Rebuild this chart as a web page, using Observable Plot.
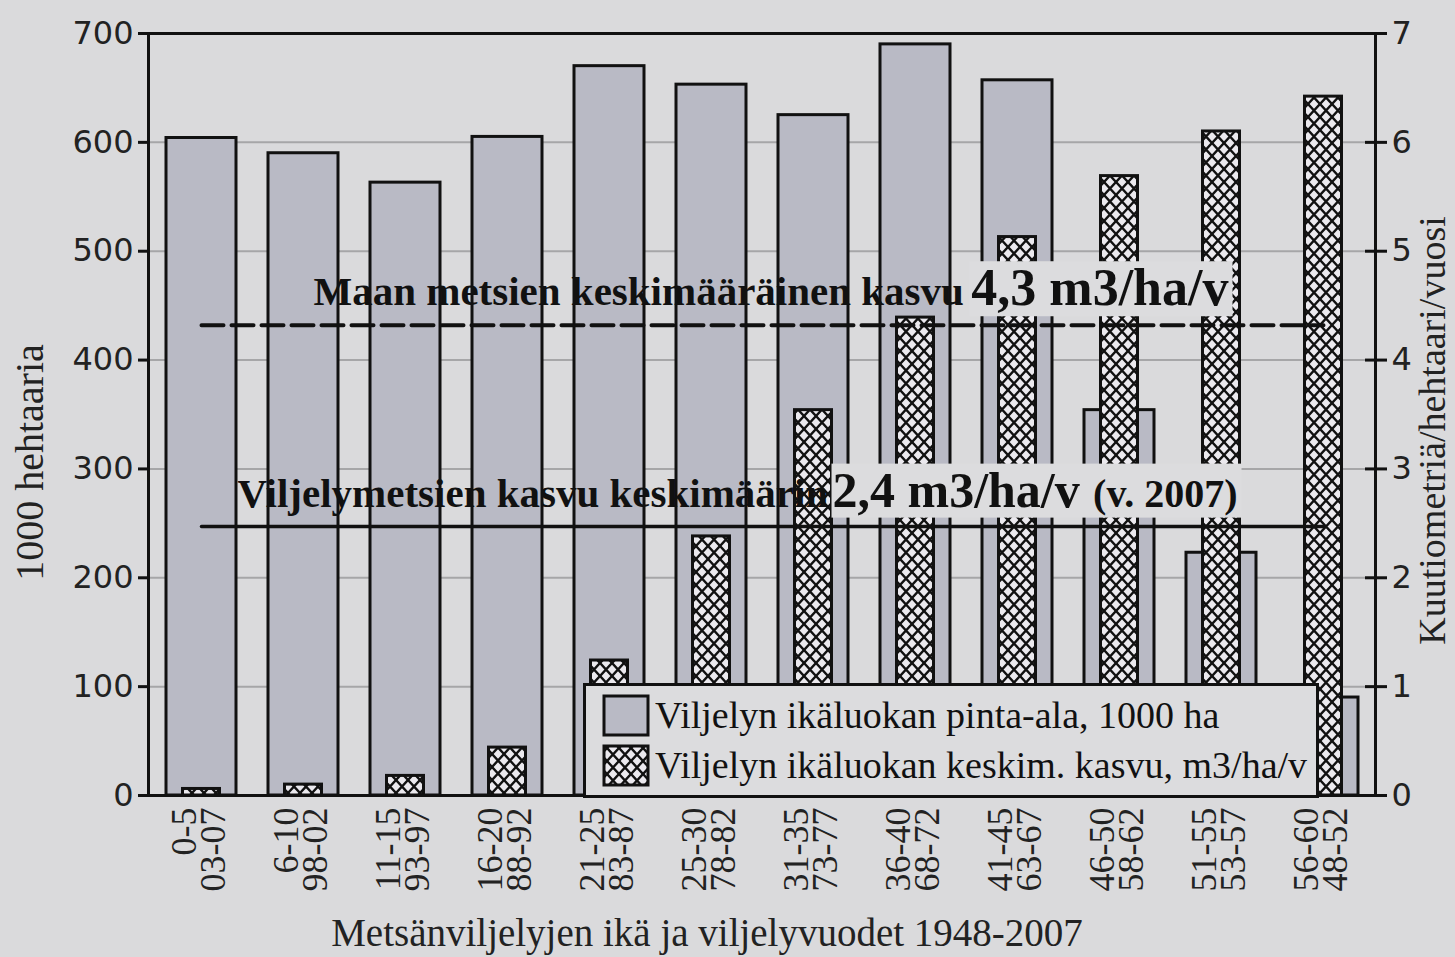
<!DOCTYPE html>
<html><head><meta charset="utf-8">
<script src="https://cdn.jsdelivr.net/npm/d3@7"></script>
<script src="https://cdn.jsdelivr.net/npm/@observablehq/plot@0.6"></script>
<style>
body{margin:0;background:#dadadc;overflow:hidden;}
#wrap{position:relative;width:1455px;height:957px;}
#legend{position:absolute;left:583px;top:683px;}
</style></head><body>
<svg width="0" height="0" style="position:absolute">
 <defs>
  <pattern id="hatch" patternUnits="userSpaceOnUse" width="12" height="13">
   <rect width="12" height="13" fill="#ebe9ee"></rect>
   <path d="M-1.2,-1.3L13.2,14.3M13.2,-1.3L-1.2,14.3" stroke="#111" stroke-width="2.4"></path>
  </pattern>
 </defs>
</svg>
<div id="wrap"></div>
<script>
// ---- data ----
const ageClasses = ["0-5","6-10","11-15","16-20","21-25","25-30","31-35","36-40","41-45","46-50","51-55","56-60"];
const plantingYears = ["03-07","98-02","93-97","88-92","83-87","78-82","73-77","68-72","63-67","58-62","53-57","48-52"];
const areaThousandHa = [604, 590, 563, 605, 670, 653, 625, 690, 657, 354, 223, 90];
const meanGrowth = [0.06, 0.10, 0.18, 0.44, 1.24, 2.38, 3.54, 4.39, 5.13, 5.69, 6.10, 6.42];
const countryMean = 4.32;   // "Maan metsien keskimääräinen kasvu 4,3 m3/ha/v"
const plantedMean = 2.47;   // "Viljelymetsien kasvu keskimäärin 2,4 m3/ha/v"
const leftTicks = [0,100,200,300,400,500,600,700];
const rightTicks = [0,1,2,3,4,5,6,7];
const legendLabels = ["Viljelyn ikäluokan pinta-ala, 1000 ha","Viljelyn ikäluokan keskim. kasvu, m3/ha/v"];

const K = 100; // right axis (m3/ha/v) -> left axis units
const rows = ageClasses.map((c,i)=>({cat:c, area:areaThousandHa[i], growth:meanGrowth[i]}));
const first = ageClasses[0], last = ageClasses[ageClasses.length-1];
const serif = "Liberation Serif, Times New Roman, serif";
const sans = "DejaVu Sans, Verdana, sans-serif";
const ink = "#111";

const chart = Plot.plot({
  width:1455, height:957,
  marginTop:33, marginBottom:162, marginLeft:148, marginRight:80,
  style:{background:"transparent", fontFamily:sans, color:"#222", overflow:"visible"},
  x:{type:"band", domain:ageClasses, padding:0},
  y:{domain:[0,700]},
  marks:[
    Plot.ruleY(leftTicks.filter(d=>d>0 && d<700), {stroke:"#a6a6a8", strokeWidth:2}),
    Plot.barY(rows, {x:"cat", y:"area", fill:"#b9bac5", stroke:ink, strokeWidth:3, insetLeft:16, insetRight:16}),
    Plot.barY(rows, {x:"cat", y:d=>d.growth*K, fill:"url(#hatch)", stroke:ink, strokeWidth:3, insetLeft:32.5, insetRight:32.5}),
    Plot.text([{cat:"51-55", v:countryMean}], {x:"cat", y:d=>d.v*K, text:()=>"4,3 m3/ha/v", textAnchor:"end", lineAnchor:"bottom", dx:7, dy:-20, fontSize:52, fontWeight:"bold", fontFamily:serif, fill:ink}),
    Plot.text([{cat:"31-35", v:plantedMean}], {x:"cat", y:d=>d.v*K, text:()=>"2,4 m3/ha/v", textAnchor:"start", lineAnchor:"bottom", dx:19, dy:-20, fontSize:50, fontWeight:"bold", fontFamily:serif, fill:ink}),
    Plot.text([{cat:"51-55", v:plantedMean}], {x:"cat", y:d=>d.v*K, text:()=>"(v. 2007)", textAnchor:"end", lineAnchor:"bottom", dx:16, dy:-20, fontSize:40, fontWeight:"bold", fontFamily:serif, fill:ink}),
    Plot.text([{cat:"6-10", v:countryMean}], {x:"cat", y:d=>d.v*K, text:()=>"Maan metsien keskimääräinen kasvu", textAnchor:"start", lineAnchor:"bottom", dx:10, dy:-20, fontSize:41, fontWeight:"bold", fontFamily:serif, fill:ink}),
    Plot.text([{cat:first, v:plantedMean}], {x:"cat", y:d=>d.v*K, text:()=>"Viljelymetsien kasvu keskimäärin", textAnchor:"start", lineAnchor:"bottom", dx:36, dy:-20, fontSize:41, fontWeight:"bold", fontFamily:serif, fill:ink}),
    Plot.lineY([{cat:first, v:countryMean},{cat:last, v:countryMean}], {x:"cat", y:d=>d.v*K, stroke:ink, strokeWidth:4, strokeDasharray:"22,8"}),
    Plot.lineY([{cat:first, v:plantedMean},{cat:last, v:plantedMean}], {x:"cat", y:d=>d.v*K, stroke:ink, strokeWidth:3.5}),
    Plot.frame({stroke:ink, strokeWidth:3}),
    Plot.axisY({anchor:"left", ticks:leftTicks, tickSize:10, tickPadding:5, strokeWidth:3, stroke:ink, fontSize:32, fontFamily:sans, fill:"#222", label:null}),
    Plot.axisY({anchor:"right", ticks:leftTicks, tickFormat:d=>d/K, tickSize:22, dx:-11, tickPadding:5, strokeWidth:3, stroke:ink, fontSize:32, fontFamily:sans, fill:"#222", label:null}),
    Plot.axisX({tickSize:0, tickRotate:-90, tickPadding:12, tickFormat:d=>d+"\n"+plantingYears[ageClasses.indexOf(d)], fontSize:36, lineHeight:0.78, fontFamily:serif, fill:"#222", label:null}),
    Plot.text(["1000 hehtaaria"], {frameAnchor:"left", text:d=>d, rotate:-90, textAnchor:"middle", dx:-118, dy:48, fontSize:40, fontFamily:serif, fill:"#222"}),
    Plot.text(["Kuutiometriä/hehtaari/vuosi"], {frameAnchor:"right", text:d=>d, rotate:-90, textAnchor:"middle", dx:57, dy:16, fontSize:38, fontFamily:serif, fill:"#222"}),
    Plot.text(["Metsänviljelyjen ikä ja viljelyvuodet 1948-2007"], {frameAnchor:"bottom", text:d=>d, textAnchor:"middle", lineAnchor:"bottom", dx:-55, dy:150, fontSize:39, fontFamily:serif, fill:"#222"})
  ]
});
document.getElementById("wrap").appendChild(chart);

// background boxes behind the value parts of the annotations
const sr = chart.getBoundingClientRect();
function boxBehind(strings, padL, padR){
  const els = Array.from(chart.querySelectorAll("text")).filter(t=>strings.includes(t.textContent));
  if(!els.length) return;
  let x0=Infinity,x1=-Infinity,y0=Infinity,y1=-Infinity;
  els.forEach(t=>{const b=t.getBoundingClientRect(); x0=Math.min(x0,b.left);x1=Math.max(x1,b.right);y0=Math.min(y0,b.top);y1=Math.max(y1,b.bottom);});
  const r = document.createElementNS("http://www.w3.org/2000/svg","rect");
  r.setAttribute("x", x0-sr.left-padL); r.setAttribute("y", y0-sr.top+2);
  r.setAttribute("width", x1-x0+padL+padR); r.setAttribute("height", y1-y0-2);
  r.setAttribute("fill", "#dcdcde");
  const firstVal = Array.from(chart.querySelectorAll("text")).find(t=>t.textContent==="4,3 m3/ha/v").parentNode;
  firstVal.parentNode.insertBefore(r, firstVal);
}
boxBehind(["4,3 m3/ha/v"], 2, 4);
boxBehind(["2,4 m3/ha/v","(v. 2007)"], 1, 4);

// legend box inside the plot area
const lg = d3.select("#wrap").append("svg").attr("id","legend").attr("width",736).attr("height",115);
lg.append("rect").attr("x",1.5).attr("y",1.5).attr("width",733).attr("height",112).attr("fill","#dcdcde").attr("stroke",ink).attr("stroke-width",3);
const fills = ["#b9bac5","url(#hatch)"];
legendLabels.forEach((lab,i)=>{
  lg.append("rect").attr("x",21).attr("y",13+i*50).attr("width",44).attr("height",39).attr("fill",fills[i]).attr("stroke",ink).attr("stroke-width",3);
  lg.append("text").attr("x",72).attr("y",45+i*50).attr("font-family",serif).attr("font-size",38).attr("fill",ink).text(lab);
});
</script>
</body></html>
